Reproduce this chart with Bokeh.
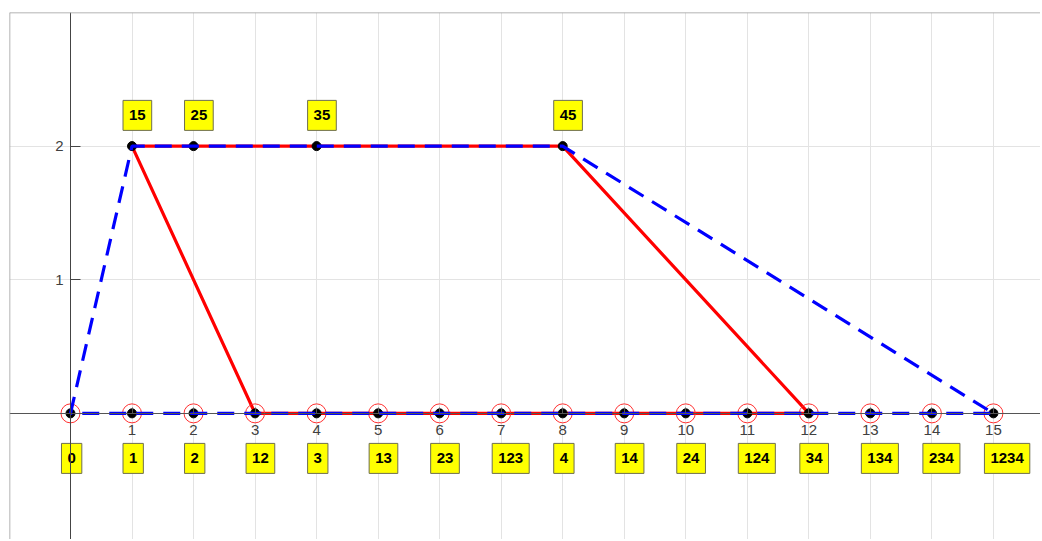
from bokeh.plotting import figure
from bokeh.models import (Range1d, LinearAxis, FixedTicker, Grid, Span,
                          ColumnDataSource)
from bokeh.core.properties import value
from bokeh.embed import file_html
from bokeh.resources import INLINE

# ---- data ----
node_x = list(range(16))
node_y = [0] * 16
bottom_labels = ["0", "1", "2", "12", "3", "13", "23", "123", "4", "14",
                 "24", "124", "34", "134", "234", "1234"]
top_x = [1, 2, 4, 8]
top_y = [2, 2, 2, 2]
top_labels = ["15", "25", "35", "45"]
red_x = [1, 8, 12, 3, 1]
red_y = [2, 2, 0, 0, 2]
blue_x = [0, 1, 8, 15, 0]
blue_y = [0, 2, 2, 0, 0]
x_ticks = list(range(1, 16))
y_ticks = [1, 2]
bottom_label_y = -0.337
top_label_y = 2.23

X0, X1 = -0.991, 15.765
Y0, Y1 = -0.944, 3.0

p = figure(width=1040, height=539, output_backend="svg", toolbar_location=None,
           x_axis_type=None, y_axis_type=None,
           x_range=Range1d(X0, X1), y_range=Range1d(Y0, Y1),
           min_border_left=9, min_border_top=12, min_border_right=0,
           min_border_bottom=0)
p.outline_line_color = None
p.background_fill_color = "white"
p.border_fill_color = "white"

# grids
p.add_layout(Grid(dimension=0, ticker=FixedTicker(ticks=list(range(-1, 16))),
                  grid_line_color="#e3e3e3", grid_line_width=1))
p.add_layout(Grid(dimension=1, ticker=FixedTicker(ticks=[1, 2, 3]),
                  grid_line_color="#e3e3e3", grid_line_width=1))

# frame (left & top edges visible in the reference)
p.add_layout(Span(location=X0, dimension="height", line_color="#9a9a9a", line_width=1.5))
p.add_layout(Span(location=Y1, dimension="width", line_color="#9a9a9a", line_width=1.5))

# axes through origin
xax = LinearAxis(fixed_location=0, ticker=FixedTicker(ticks=x_ticks),
                 axis_line_color="#555555", axis_line_width=1,
                 major_tick_line_color="#555555", major_tick_in=6, major_tick_out=0,
                 minor_tick_line_color=None,
                 major_label_text_font="Liberation Sans",
                 major_label_text_font_size="15px",
                 major_label_text_color="#404040",
                 major_label_standoff=12)
p.add_layout(xax, "below")
yax = LinearAxis(fixed_location=0, ticker=FixedTicker(ticks=y_ticks),
                 axis_line_color="#444444", axis_line_width=1,
                 major_tick_line_color="#444444", major_tick_in=10, major_tick_out=0,
                 minor_tick_line_color=None,
                 major_label_text_font="Liberation Sans",
                 major_label_text_font_size="15px",
                 major_label_text_color="#404040",
                 major_label_standoff=7)
p.add_layout(yax, "left")

# lines and markers
p.line(red_x, red_y, line_color="#ff0000", line_width=3.2)
p.scatter(node_x, node_y, size=19, fill_color=None, line_color="#ff3030", line_width=1)
p.scatter(node_x + top_x, node_y + top_y, size=9, fill_color="black", line_color="black")
p.line(blue_x, blue_y, line_color="#0000ff", line_width=3.2, line_dash="17 10")

# labels
src_b = ColumnDataSource(dict(x=node_x, y=[bottom_label_y] * 16, t=bottom_labels))
src_t = ColumnDataSource(dict(x=top_x, y=[top_label_y] * 4, t=top_labels))
for src in (src_b, src_t):
    p.text(x="x", y="y", text="t", source=src,
           x_offset=-9, text_align="left", text_baseline="middle",
           text_font=value("Liberation Sans"), text_font_style="bold",
           text_font_size="15px", text_color="black",
           background_fill_color="#ffff00",
           border_line_color="#6e6e50", border_line_width=1,
           padding=(6, 10))

open("out.html", "w").write(file_html(p, INLINE))
